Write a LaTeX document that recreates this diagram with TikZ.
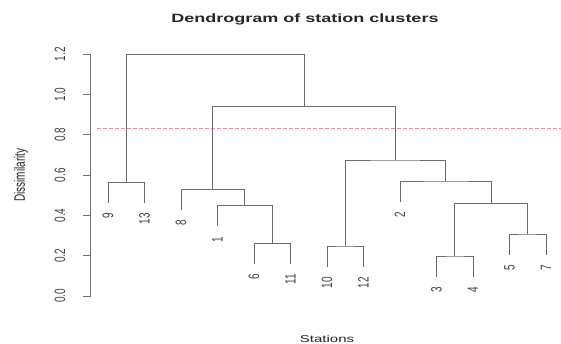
\documentclass[tikz,border=0pt]{standalone}
\usepackage{fontspec}
\setmainfont{Liberation Sans}
\usepackage{graphicx}
\begin{document}
\begin{tikzpicture}[x=1pt,y=-1pt,
  tree/.style={draw=black!58, line width=0.85pt},
  axisline/.style={draw=black!55, line width=0.8pt},
  cutline/.style={draw=red!45, line width=0.7pt, dash pattern=on 3.5pt off 2.5pt},
  leaflab/.style={anchor=east, rotate=90, inner sep=0pt, xshift=-3pt, font=\fontsize{10}{10}\selectfont, text=black!75},
  ticklab/.style={rotate=90, inner sep=0pt, font=\fontsize{10}{10}\selectfont, text=black!75},
  axtitle/.style={inner sep=0pt, font=\fontsize{10}{10}\selectfont, text=black!85}]
\useasboundingbox (0,0) rectangle (561,344);
\fill[white] (0,0) rectangle (561,344);
% title
\node[inner sep=0pt, font=\fontsize{12}{12}\selectfont\bfseries, text=black!85] (title) at (305,19.5) {\scalebox{1.5}[1]{Dendrogram of station clusters}};
% axis
\coordinate (ax0) at (90.5,296);
\coordinate (ax1) at (90.5,54.3);
\draw[axisline] (ax0) -- (ax1);
\foreach \v/\t [count=\i] in {0/0.0,0.2/0.2,0.4/0.4,0.6/0.6,0.8/0.8,1.0/1.0,1.2/1.2}{
  \coordinate (tk\i) at (90.5,{296-\v*201.4});
  \draw[axisline] (tk\i) -- ++(-8,0);
  \node[ticklab] (tl\i) at (60,{296-\v*201.4}) {\scalebox{1}[1.5]{\t}};
}
\node[axtitle, rotate=90] (ylab) at (21,175) {\scalebox{1}[1.5]{Dissimilarity}};
\node[axtitle, anchor=north] (xlab) at (327,335.5) {\scalebox{1.5}[1]{Stations}};
% cut line
\coordinate (c0) at (97,128.5);
\coordinate (c1) at (561,128.5);
\draw[cutline] (c0) -- (c1);
% merges
\coordinate (A) at (126.25,182.3);
\coordinate (B) at (272.25,243.3);
\coordinate (C) at (244.9,205.7);
\coordinate (D) at (212.9,189.3);
\coordinate (E) at (345.25,246);
\coordinate (F) at (454.75,256);
\coordinate (G) at (527.75,234);
\coordinate (H) at (491.25,203.3);
\coordinate (I) at (445.6,181);
\coordinate (J) at (395.4,160);
\coordinate (K) at (304.2,106.7);
\coordinate (L) at (215.2,54.3);
% leaves (bottom ends)
\coordinate (l9) at (108,203);
\coordinate (l13) at (144.5,203);
\coordinate (l8) at (181,210);
\coordinate (l1) at (217.5,226.4);
\coordinate (l6) at (254,264);
\coordinate (l11) at (290.5,264);
\coordinate (l10) at (327,266.7);
\coordinate (l12) at (363.5,266.7);
\coordinate (l2) at (400,201.7);
\coordinate (l3) at (436.5,276.7);
\coordinate (l4) at (473,276.7);
\coordinate (l5) at (509.5,254.7);
\coordinate (l7) at (546,254.7);
% tree
\draw[tree] (l9) |- (A) -| (l13);
\draw[tree] (l6) |- (B) -| (l11);
\draw[tree] (l1) |- (C) -| (B);
\draw[tree] (l8) |- (D) -| (C);
\draw[tree] (l10) |- (E) -| (l12);
\draw[tree] (l3) |- (F) -| (l4);
\draw[tree] (l5) |- (G) -| (l7);
\draw[tree] (F) |- (H) -| (G);
\draw[tree] (l2) |- (I) -| (H);
\draw[tree] (E) |- (J) -| (I);
\draw[tree] (D) |- (K) -| (J);
\draw[tree] (A) |- (L) -| (K);
% leaf labels
\foreach \n in {9,13,8,1,6,11,10,12,2,3,4,5,7}{
  \node[leaflab] (lab\n) at ([yshift=-7pt]l\n) {\scalebox{1}[1.5]{\n}};
}
\end{tikzpicture}
\end{document}
